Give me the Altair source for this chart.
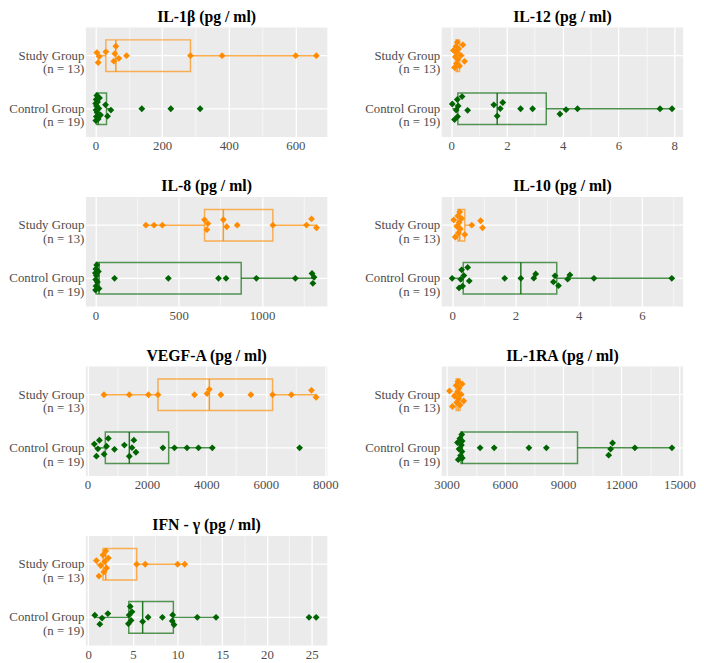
import altair as alt
import numpy as np
import pandas as pd

# ---- data ----
groups = ["Study Group|(n = 13)", "Control Group|(n = 19)"]
colors = ["#FF8C00", "#006400"]

titles = ["IL-1β (pg / ml)", "IL-12 (pg / ml)", "IL-8 (pg / ml)", "IL-10 (pg / ml)",
          "VEGF-A (pg / ml)", "IL-1RA (pg / ml)", "IFN - γ (pg / ml)"]

il1b_study = [4, 8, 11, 31, 55, 58, 61, 70, 93, 285, 380, 601, 663]
il1b_control = [0.5, 1, 1.5, 2, 2.5, 3, 4, 5, 6, 8, 10, 12, 15, 30, 36, 46, 139, 226, 314]

il12_study = [0.08, 0.12, 0.15, 0.17, 0.19, 0.2, 0.22, 0.24, 0.27, 0.3, 0.35, 0.42, 0.48]
il12_control = [0.04, 0.12, 0.18, 0.22, 0.23, 0.25, 0.39, 0.59, 1.53, 1.65, 1.76, 1.85,
                2.49, 2.92, 3.9, 4.12, 4.53, 7.49, 7.92]

il8_study = [303, 352, 402, 655, 669, 675, 768, 788, 851, 1065, 1267, 1297, 1327]
il8_control = [0, 1, 2, 3, 4, 6, 8, 12, 18, 22, 115, 438, 739, 784, 966, 1200, 1300, 1305, 1312]

il10_study = [0.05, 0.1, 0.15, 0.18, 0.2, 0.22, 0.24, 0.26, 0.3, 0.4, 0.62, 0.9, 0.96]
il10_control = [0.0, 0.22, 0.27, 0.3, 0.33, 0.37, 0.49, 0.54, 1.66, 2.17, 2.58, 2.64,
                3.2, 3.25, 3.36, 3.65, 3.72, 4.48, 6.94]

vegf_study = [554, 1407, 2050, 2371, 3601, 4022, 4100, 4488, 5496, 6227, 6859, 7535, 7690]
vegf_control = [230, 300, 350, 400, 560, 640, 700, 908, 1241, 1407, 1496, 1560, 1629,
                2537, 2925, 3346, 3734, 4199, 7136]

il1ra_study = [3150, 3300, 3400, 3490, 3520, 3560, 3590, 3620, 3650, 3690, 3750, 3800, 3880]
il1ra_control = [3560, 3600, 3640, 3680, 3720, 3760, 3780, 3790, 3800, 3810, 4725, 5450,
                 7240, 8140, 11350, 11450, 11550, 12700, 14610]

ifn_study = [0.92, 1.2, 1.4, 1.66, 1.75, 1.85, 1.96, 2.05, 2.25, 5.42, 6.38, 10.0, 10.8]
ifn_control = [0.74, 1.3, 1.55, 2.2, 4.5, 4.58, 4.7, 4.8, 4.9, 6.09, 6.7, 8.3, 9.4, 9.45,
               9.6, 12.2, 14.3, 24.7, 25.5]

domains = [[-29, 696], [-0.34, 8.32], [-57, 1392], [-0.33, 7.3],
           [-55, 8070], [2746, 15190], [-0.26, 26.75]]
major_ticks = [[0, 200, 400, 600], [0, 2, 4, 6, 8], [0, 500, 1000], [0, 2, 4, 6],
               [0, 2000, 4000, 6000, 8000], [3000, 6000, 9000, 12000, 15000],
               [0, 5, 10, 15, 20, 25]]
minor_ticks = [[100, 300, 500], [1, 3, 5, 7], [250, 750, 1250], [1, 3, 5, 7],
               [1000, 3000, 5000, 7000], [4500, 7500, 10500, 13500],
               [2.5, 7.5, 12.5, 17.5, 22.5]]

series = [(il1b_study, il1b_control), (il12_study, il12_control), (il8_study, il8_control),
          (il10_study, il10_control), (vegf_study, vegf_control),
          (il1ra_study, il1ra_control), (ifn_study, ifn_control)]

SERIF = "Liberation Serif"
BOX = 32
W, H = 245, 111
PAD_OUTER = 0.03
HALF_BAND = H / (2 + 2 * PAD_OUTER) / 2


def jitter(vals, px_per_unit, amp=14.0, radius=7.0):
    """Density-dependent deterministic vertical spread: isolated points stay on
    the centre line, crowded points fan out."""
    v = np.asarray(vals, dtype=float) * px_per_unit
    order = np.argsort(v, kind="stable")
    n = len(v)
    counts = np.array([np.sum(np.abs(v - x) <= radius) - 1 for x in v])
    fac = np.minimum(1.0, np.sqrt(counts / 6.0))
    u = np.zeros(n)
    u[order] = (np.arange(n) * 0.618034 + 0.31) % 1.0
    return amp * fac * (u - 0.5) * 2 + HALF_BAND


def panel(k):
    s, c = series[k]
    ppu = W / (domains[k][1] - domains[k][0])
    df = pd.DataFrame({
        "group": [groups[0]] * len(s) + [groups[1]] * len(c),
        "value": list(s) + list(c),
        "jit": list(jitter(s, ppu)) + list(jitter(c, ppu)),
    })
    majors = major_ticks[k]
    test = "indexof(%s, datum.value) >= 0" % str(majors)
    xenc = alt.X("value:Q",
                 scale=alt.Scale(domain=domains[k], nice=False, zero=False),
                 axis=alt.Axis(title=None, values=sorted(majors + minor_ticks[k]),
                               labelExpr="%s ? format(datum.value, 'd') : ''" % test,
                               gridWidth={"condition": {"test": test, "value": 1.3}, "value": 0.6},
                               labelPadding=3, labelFlush=False))
    yenc = alt.Y("group:N", sort=groups,
                 scale=alt.Scale(paddingInner=0, paddingOuter=PAD_OUTER),
                 axis=alt.Axis(title=None, labelExpr="split(datum.label, '|')",
                               labelLineHeight=14, labelPadding=2, grid=True,
                               bandPosition=0.5, gridWidth=1.3))
    layers = []
    for g, col in zip(groups, colors):
        layers.append(
            alt.Chart(df).transform_filter(alt.datum.group == g).mark_boxplot(
                size=BOX, extent=1.5, outliers=False, ticks=False,
                box={"fill": col, "fillOpacity": 0, "stroke": col,
                     "strokeOpacity": 0.65, "strokeWidth": 1.5},
                median={"color": col, "opacity": 0.85, "thickness": 1.5},
                rule={"color": col, "opacity": 0.7, "strokeWidth": 1.5},
            ).encode(x=xenc, y=yenc)
        )
    pts = alt.Chart(df).mark_point(shape="diamond", filled=True, size=48, opacity=1).encode(
        x=xenc, y=yenc,
        yOffset=alt.YOffset("jit:Q", scale=None),
        color=alt.Color("group:N", scale=alt.Scale(domain=groups, range=colors), legend=None),
    )
    layers.append(pts)
    return alt.layer(*layers).properties(
        width=W, height=H,
        title=alt.TitleParams(titles[k], font=SERIF, fontSize=16, fontWeight="bold",
                              color="black", offset=3, frame="group", anchor="middle"),
    )


chart = alt.concat(*[panel(k) for k in range(7)], columns=2,
                   spacing={"row": 61, "column": 116}).properties(
    bounds="flush", padding={"top": -4, "left": 0, "right": 0, "bottom": 0}
).configure_view(fill="#EBEBEB", stroke=None).configure_axis(
    labelFont=SERIF, labelFontSize=13, labelColor="#4D4D4D",
    domain=False, ticks=False, gridColor="white", gridOpacity=1,
)

chart.save("out.html", embed_options={"renderer": "svg", "actions": False})
